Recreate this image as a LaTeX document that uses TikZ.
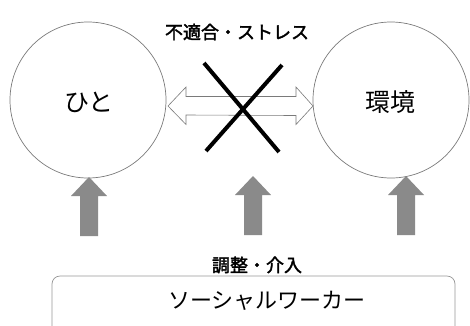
\documentclass[tikz,border=0pt]{standalone}
\usepackage{fontspec}
\setmainfont{Noto Sans CJK JP}
\newfontfamily\semib[FakeBold=2]{Noto Sans CJK JP}
\usetikzlibrary{calc}
\definecolor{arrowgray}{HTML}{8A8A8A}
\definecolor{linegray}{HTML}{7A7A7A}
\tikzset{
  circ/.style={circle, draw=linegray, line width=0.7pt, minimum size=156pt, inner sep=0pt},
  big/.style={inner sep=0pt, font=\fontsize{25}{28}\selectfont},
  lbl/.style={inner sep=0pt, font=\fontsize{18}{20}\selectfont\semib},
  upar/.style={fill=arrowgray, draw=none},
  dbl/.style={draw=linegray, fill=white, line width=0.6pt},
  cross/.style={line width=4pt, black},
  swbox/.style={draw=linegray!80, line width=0.7pt, rounded corners=8pt}
}
\begin{document}
\begin{tikzpicture}[x=1pt,y=-1pt]
\useasboundingbox (0,0) rectangle (470,325);
\clip (0,0) rectangle (470,325);
\node[circ] (L) at (88,100) {};
\node[circ] (R) at (391,100) {};
\node[big] (Lt) at (89,102.5) {ひと};
\node[big] (Rt) at (390,102) {環境};
\node[lbl] (T) at (237,32) {不適合・ストレス};
% double arrow
\coordinate (dl) at (168,106);
\coordinate (dr) at (313,106);
\draw[dbl] (dl) -- ++(18,-19) -- ++(0,9.5) -- ($(dr)+(-17,-9.5)$) -- ++(0,-9.5) -- (dr)
  -- ++(-17,18.5) -- ++(0,-9) -- ($(dl)+(18,9)$) -- ++(0,9.5) -- cycle;
% cross
\coordinate (x1) at (204,63);
\coordinate (x2) at (279,152);
\coordinate (x3) at (282,65);
\coordinate (x4) at (206,151);
\draw[cross] (x1) -- (x2);
\draw[cross] (x3) -- (x4);
% up arrows
\foreach \n/\cx/\ty in {a/89/177, b/253/176, c/406/176}{
  \coordinate (\n) at (\cx,\ty);
  \fill[upar] (\n) -- ++(18,19) -- ++(-9,0) -- ++(0,40) -- ++(-18,0) -- ++(0,-40) -- ++(-9,0) -- cycle;
}
\node[lbl] (A) at (257,265) {調整・介入};
\draw[swbox] (52,340) |- (455,276) -- (455,340);
\node[inner sep=0pt, font=\fontsize{22}{24}\selectfont] (S) at (267,301) {ソーシャルワーカー};
\end{tikzpicture}
\end{document}
